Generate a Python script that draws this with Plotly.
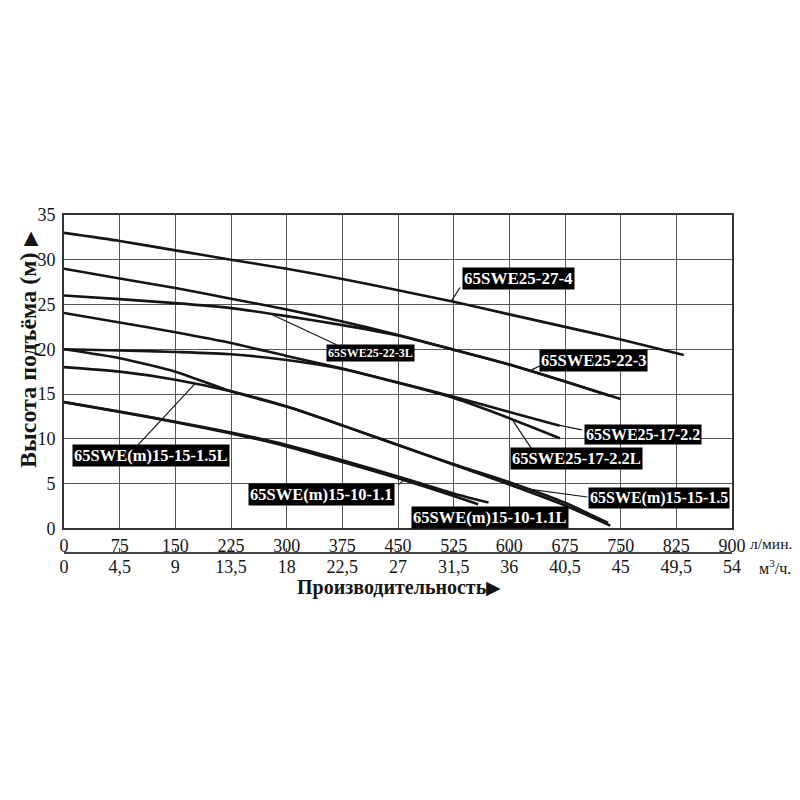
import plotly.graph_objects as go

# ---------------- data ----------------
flow_ticks = [0, 75, 150, 225, 300, 375, 450, 525, 600, 675, 750, 825, 900]
flow_tick_text = ['0', '75', '150', '225', '300', '375', '450', '525', '600', '675', '750', '825', '900']
m3h_tick_text = ['0', '4,5', '9', '13,5', '18', '22,5', '27', '31,5', '36', '40,5', '45', '49,5', '54']
head_ticks = [0, 5, 10, 15, 20, 25, 30, 35]

flow_27_4 = [0, 75, 150, 225, 300, 375, 450, 525, 600, 675, 750, 835]
head_27_4 = [33.0, 32.1, 31.05, 30.0, 29.0, 27.85, 26.6, 25.3, 23.9, 22.5, 21.1, 19.35]

flow_22_3 = [0, 75, 150, 225, 300, 375, 450, 525, 600, 675, 750]
head_22_3 = [29.0, 27.9, 26.85, 25.65, 24.45, 23.1, 21.6, 19.95, 18.3, 16.4, 14.45]

flow_22_3L = [0, 75, 150, 225, 300, 375, 450, 525, 600, 675, 735]
head_22_3L = [26.0, 25.6, 25.15, 24.6, 23.7, 22.7, 21.55, 19.95, 18.3, 16.4, 14.8]

flow_17_22 = [0, 75, 150, 225, 300, 375, 450, 525, 600, 668]
head_17_22 = [24.05, 23.0, 21.9, 20.7, 19.25, 17.85, 16.3, 14.7, 13.0, 11.45]

flow_17_22L = [0, 75, 150, 225, 300, 375, 450, 525, 600, 668]
head_17_22L = [20.0, 19.87, 19.7, 19.45, 18.8, 17.8, 16.25, 14.55, 12.3, 10.06]

flow_15_15 = [0, 75, 150, 225, 300, 375, 450, 525, 600, 675, 736]
head_15_15 = [20.0, 19.0, 17.5, 15.3, 13.6, 11.5, 9.3, 7.1, 4.9, 2.55, 0.3]

flow_15_15L = [0, 75, 150, 225, 300, 375, 450, 525, 600, 675, 733]
head_15_15L = [18.0, 17.5, 16.6, 15.3, 13.6, 11.5, 9.3, 7.15, 5.15, 2.85, 0.6]

flow_15_10 = [0, 75, 150, 225, 300, 375, 450, 525, 558]
head_15_10 = [14.1, 13.0, 11.85, 10.6, 9.15, 7.4, 5.6, 3.6, 2.68]

flow_15_10L = [0, 75, 150, 225, 300, 375, 450, 525, 572]
head_15_10L = [14.1, 13.05, 11.9, 10.7, 9.3, 7.6, 5.8, 3.9, 2.87]

curves = [
    ('65SWE25-27-4', flow_27_4, head_27_4),
    ('65SWE25-22-3', flow_22_3, head_22_3),
    ('65SWE25-22-3L', flow_22_3L, head_22_3L),
    ('65SWE25-17-2.2', flow_17_22, head_17_22),
    ('65SWE25-17-2.2L', flow_17_22L, head_17_22L),
    ('65SWE(m)15-15-1.5', flow_15_15, head_15_15),
    ('65SWE(m)15-15-1.5L', flow_15_15L, head_15_15L),
    ('65SWE(m)15-10-1.1', flow_15_10, head_15_10),
    ('65SWE(m)15-10-1.1L', flow_15_10L, head_15_10L),
]

label_names = ['65SWE25-27-4', '65SWE25-22-3L', '65SWE25-22-3', '65SWE25-17-2.2', '65SWE25-17-2.2L',
               '65SWE(m)15-15-1.5', '65SWE(m)15-10-1.1L', '65SWE(m)15-10-1.1', '65SWE(m)15-15-1.5L']
label_flow = [612, 413.6, 712.9, 779.7, 690.0, 801.5, 574.0, 347.1, 117.3]
label_head = [27.9, 19.53, 18.71, 10.44, 7.79, 3.36, 1.26, 3.78, 8.17]
label_size = [17, 12, 16.5, 16, 16.5, 16, 16.5, 16.5, 16.5]
pointer_from = [(522, 25.4), (277, 24.0), (630, 17.7), (668, 11.5), (605, 12.0),
                (606, 4.6), None, (457, 5.3), (176, 16.1)]
pointer_to = [(533.6, 26.9), (367.3, 20.5), (641.5, 18.15), (697.7, 11.0), (630.3, 8.84),
              (705.2, 3.5), None, (450, 4.85), (99.8, 9.32)]

SERIF = 'Liberation Serif'
INK = '#151515'
GRID = '#555555'

# page offset (body margin) and paper geometry
OFF = 8
M_L, M_R, M_T, M_B = 56, 76, 207, 200
PAPER_H = 800 - M_T - M_B
PAPER_W = 800 - M_L - M_R


def py(page_y):
    return (800 - M_B - (page_y - OFF)) / PAPER_H


def px_(page_x):
    return (page_x - OFF - M_L) / PAPER_W


fig = go.Figure()
for name, fx, hy in curves:
    fig.add_trace(go.Scatter(x=fx, y=hy, mode='lines', name=name,
                             line=dict(color=INK, width=2.6, shape='spline', smoothing=0.6),
                             showlegend=False, hoverinfo='x+y+name'))

# invisible trace on the secondary (m3/h) axis so it is rendered
fig.add_trace(go.Scatter(x=[flow_ticks[0], flow_ticks[-1]], y=[None, None], xaxis='x2',
                         mode='lines', showlegend=False, hoverinfo='skip'))

shapes = []
for pf, pt in zip(pointer_from, pointer_to):
    if pf is None:
        continue
    shapes.append(dict(type='line', xref='x', yref='y', x0=pf[0], y0=pf[1], x1=pt[0], y1=pt[1],
                       line=dict(color=INK, width=1.2)))

annotations = []
for name, lx, ly, fs in zip(label_names, label_flow, label_head, label_size):
    annotations.append(dict(x=lx, y=ly, xref='x', yref='y', text='<b>' + name + '</b>',
                            showarrow=False, bgcolor='black', borderpad=1,
                            font=dict(family=SERIF, size=fs, color='white')))

annotations += [
    dict(x=px_(28), y=py(350), xref='paper', yref='paper',
         text='<b>Высота подъёма (м)</b> <span style="font-size:19px">▶</span>',
         textangle=-90, showarrow=False, xanchor='center', yanchor='middle',
         font=dict(family=SERIF, size=24, color=INK)),
    dict(x=px_(399), y=py(587), xref='paper', yref='paper',
         text='<b>Производительность</b><span style="font-size:19px">▶</span>',
         showarrow=False, xanchor='center', yanchor='middle',
         font=dict(family=SERIF, size=20, color=INK)),
    dict(x=px_(748), y=py(543), xref='paper', yref='paper', text='л/мин.',
         showarrow=False, xanchor='left', yanchor='middle',
         font=dict(family=SERIF, size=15.5, color=INK)),
    dict(x=px_(757), y=py(567), xref='paper', yref='paper', text='м<sup>3</sup>/ч.',
         showarrow=False, xanchor='left', yanchor='middle',
         font=dict(family=SERIF, size=16, color=INK)),
]

fig.update_layout(
    width=800, height=800,
    margin=dict(l=M_L, r=M_R, t=M_T, b=M_B),
    paper_bgcolor='white', plot_bgcolor='white',
    showlegend=False,
    xaxis=dict(range=[0, 900], tickmode='array', tickvals=flow_ticks, ticktext=flow_tick_text,
               showgrid=True, gridcolor=GRID, gridwidth=1.4, zeroline=False,
               showline=True, mirror=True, linecolor='#333', linewidth=1.6,
               ticks='', ticklabelstandoff=0,
               tickfont=dict(family=SERIF, size=18, color=INK)),
    xaxis2=dict(range=[0, 900], overlaying='x', anchor='free', position=py(552.7), side='bottom',
                tickmode='array', tickvals=flow_ticks, ticktext=m3h_tick_text,
                showgrid=False, zeroline=False, showline=True, linecolor='#444', linewidth=1.5,
                ticks='inside', ticklen=4, tickcolor='#444', tickwidth=1.3, ticklabelstandoff=-2,
                tickfont=dict(family=SERIF, size=18, color=INK)),
    yaxis=dict(range=[0, 35], domain=[py(528.3), 1], tickmode='array', tickvals=head_ticks,
               showgrid=True, gridcolor=GRID, gridwidth=1.4, zeroline=False,
               showline=True, mirror=True, linecolor='#333', linewidth=1.6,
               ticks='', ticklabelstandoff=3,
               tickfont=dict(family=SERIF, size=18, color=INK)),
    shapes=shapes,
    annotations=annotations,
)

fig.write_html('out.html')
